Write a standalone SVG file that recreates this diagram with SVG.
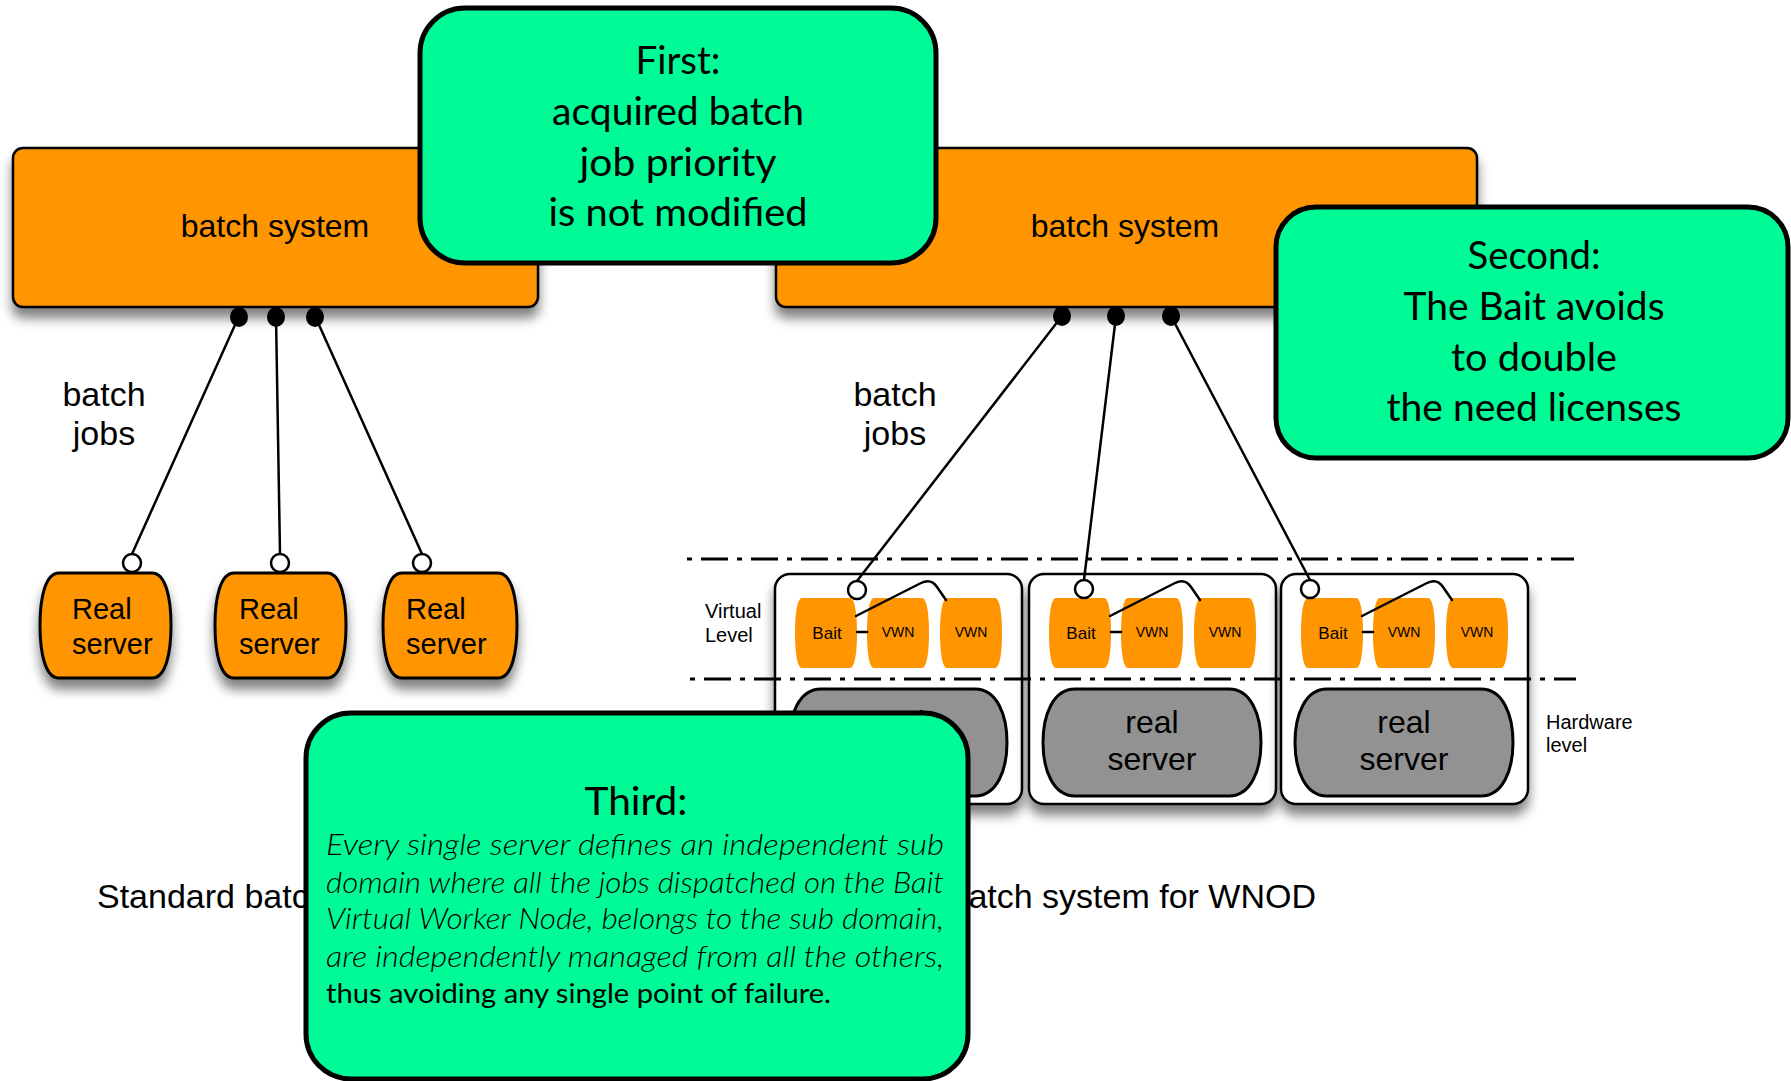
<svg xmlns="http://www.w3.org/2000/svg" width="1791" height="1081" viewBox="0 0 1791 1081">
  <defs>
    <filter id="shadow" x="-15%" y="-20%" width="130%" height="160%">
      <feGaussianBlur in="SourceAlpha" stdDeviation="6"/>
      <feOffset dy="10" result="blur"/>
      <feComponentTransfer><feFuncA type="linear" slope="0.5"/></feComponentTransfer>
      <feMerge><feMergeNode/><feMergeNode in="SourceGraphic"/></feMerge>
    </filter>
    <style>
      .batch { fill: #FF9500; stroke: #000; stroke-width: 2.5; }
      .real { fill: #FF9500; stroke: #000; stroke-width: 3; stroke-linejoin: round; }
      .pill { fill: #FF9500; stroke: none; }
      .host { fill: #fff; stroke: #000; stroke-width: 2.5; }
      .hw { fill: #929292; stroke: #000; stroke-width: 3; }
      .callout { fill: #00FA96; stroke: #000; stroke-width: 5; }
      .wire { stroke: #000; stroke-width: 2.5; fill: none; stroke-linecap: round; }
      .port { fill: #000; }
      .socket { fill: #fff; stroke: #000; stroke-width: 2.5; }
      .level { stroke: #000; stroke-width: 3; stroke-dasharray: 5 9 27 9; fill: none; }
      .sans { font-family: "Liberation Sans", Arial, sans-serif; fill: #000; }
      .gill { font-family: Lato, "Open Sans", sans-serif; fill: #000; }
      .mid { text-anchor: middle; }
    </style>
  </defs>

  <rect width="1791" height="1081" fill="#fff"/>

  <!-- batch system boxes -->
  <g id="batch-left">
    <rect class="batch" x="13" y="148" width="525" height="159" rx="10" filter="url(#shadow)"/>
    <text class="sans mid" x="275" y="237" font-size="32">batch system</text>
  </g>
  <g id="batch-right">
    <rect class="batch" x="776" y="148" width="701" height="159" rx="10" filter="url(#shadow)"/>
    <text class="sans mid" x="1125" y="237" font-size="32">batch system</text>
  </g>

  <!-- edge labels -->
  <g id="label-jobs-left">
    <text class="sans mid" x="104" y="406" font-size="34">batch</text>
    <text class="sans mid" x="104" y="445" font-size="34">jobs</text>
  </g>
  <g id="label-jobs-right">
    <text class="sans mid" x="895" y="406" font-size="34">batch</text>
    <text class="sans mid" x="895" y="445" font-size="34">jobs</text>
  </g>

  <!-- standard worker nodes -->
  <g id="real-server-1">
    <path class="real" filter="url(#shadow)" d="M59,573 H152 C166,573 171,599 171,625.5 C171,652 166,678 152,678 H59 C45,678 40,652 40,625.5 C40,599 45,573 59,573 Z"/>
    <text class="sans" x="72" y="619" font-size="29">Real</text>
    <text class="sans" x="72" y="654" font-size="29">server</text>
  </g>
  <g id="real-server-2">
    <path class="real" filter="url(#shadow)" d="M234,573 H327 C341,573 346,599 346,625.5 C346,652 341,678 327,678 H234 C220,678 215,652 215,625.5 C215,599 220,573 234,573 Z"/>
    <text class="sans" x="239" y="619" font-size="29">Real</text>
    <text class="sans" x="239" y="654" font-size="29">server</text>
  </g>
  <g id="real-server-3">
    <path class="real" filter="url(#shadow)" d="M402,573 H498 C512,573 517,599 517,625.5 C517,652 512,678 498,678 H402 C388,678 383,652 383,625.5 C383,599 388,573 402,573 Z"/>
    <text class="sans" x="406" y="619" font-size="29">Real</text>
    <text class="sans" x="406" y="654" font-size="29">server</text>
  </g>

  <!-- WNOD hosts: bait + virtual worker nodes on a real server -->
  <g id="host-1" transform="translate(775,0)">
    <rect class="host" x="0" y="574" width="247" height="230" rx="15" filter="url(#shadow)"/>
    <path class="pill" d="M27,598 H75 C80,598 82,615 82,633 C82,651 80,668 75,668 H27 C22,668 20,651 20,633 C20,615 22,598 27,598 Z"/>
    <path class="pill" d="M99,598 H147 C152,598 154,615 154,633 C154,651 152,668 147,668 H99 C94,668 92,651 92,633 C92,615 94,598 99,598 Z"/>
    <path class="pill" d="M172,598 H220 C225,598 227,615 227,633 C227,651 225,668 220,668 H172 C167,668 165,651 165,633 C165,615 167,598 172,598 Z"/>
    <text class="sans mid" x="52" y="639" font-size="17">Bait</text>
    <text class="sans mid" x="123" y="637" font-size="14">VWN</text>
    <text class="sans mid" x="196" y="637" font-size="14">VWN</text>
    <path class="wire" d="M82,632 H92"/>
    <path class="wire" d="M81,616 L146,583 C152,580 158,581 162,587 L171,600"/>
    <path class="hw" d="M46,689 H200 C222,689 232,715 232,742.5 C232,770 222,796 200,796 H46 C24,796 14,770 14,742.5 C14,715 24,689 46,689 Z"/>
    <text class="sans mid" x="123" y="733" font-size="32">real</text>
    <text class="sans mid" x="123" y="770" font-size="32">server</text>
  </g>
  <g id="host-2" transform="translate(1029,0)">
    <rect class="host" x="0" y="574" width="247" height="230" rx="15" filter="url(#shadow)"/>
    <path class="pill" d="M27,598 H75 C80,598 82,615 82,633 C82,651 80,668 75,668 H27 C22,668 20,651 20,633 C20,615 22,598 27,598 Z"/>
    <path class="pill" d="M99,598 H147 C152,598 154,615 154,633 C154,651 152,668 147,668 H99 C94,668 92,651 92,633 C92,615 94,598 99,598 Z"/>
    <path class="pill" d="M172,598 H220 C225,598 227,615 227,633 C227,651 225,668 220,668 H172 C167,668 165,651 165,633 C165,615 167,598 172,598 Z"/>
    <text class="sans mid" x="52" y="639" font-size="17">Bait</text>
    <text class="sans mid" x="123" y="637" font-size="14">VWN</text>
    <text class="sans mid" x="196" y="637" font-size="14">VWN</text>
    <path class="wire" d="M82,632 H92"/>
    <path class="wire" d="M81,616 L146,583 C152,580 158,581 162,587 L171,600"/>
    <path class="hw" d="M46,689 H200 C222,689 232,715 232,742.5 C232,770 222,796 200,796 H46 C24,796 14,770 14,742.5 C14,715 24,689 46,689 Z"/>
    <text class="sans mid" x="123" y="733" font-size="32">real</text>
    <text class="sans mid" x="123" y="770" font-size="32">server</text>
  </g>
  <g id="host-3" transform="translate(1281,0)">
    <rect class="host" x="0" y="574" width="247" height="230" rx="15" filter="url(#shadow)"/>
    <path class="pill" d="M27,598 H75 C80,598 82,615 82,633 C82,651 80,668 75,668 H27 C22,668 20,651 20,633 C20,615 22,598 27,598 Z"/>
    <path class="pill" d="M99,598 H147 C152,598 154,615 154,633 C154,651 152,668 147,668 H99 C94,668 92,651 92,633 C92,615 94,598 99,598 Z"/>
    <path class="pill" d="M172,598 H220 C225,598 227,615 227,633 C227,651 225,668 220,668 H172 C167,668 165,651 165,633 C165,615 167,598 172,598 Z"/>
    <text class="sans mid" x="52" y="639" font-size="17">Bait</text>
    <text class="sans mid" x="123" y="637" font-size="14">VWN</text>
    <text class="sans mid" x="196" y="637" font-size="14">VWN</text>
    <path class="wire" d="M82,632 H92"/>
    <path class="wire" d="M81,616 L146,583 C152,580 158,581 162,587 L171,600"/>
    <path class="hw" d="M46,689 H200 C222,689 232,715 232,742.5 C232,770 222,796 200,796 H46 C24,796 14,770 14,742.5 C14,715 24,689 46,689 Z"/>
    <text class="sans mid" x="123" y="733" font-size="32">real</text>
    <text class="sans mid" x="123" y="770" font-size="32">server</text>
  </g>

  <!-- level separators -->
  <g id="levels">
    <path class="level" d="M687,559 H1574"/>
    <path class="level" d="M690,679 H1576"/>
    <text class="sans" x="705" y="618" font-size="20">Virtual</text>
    <text class="sans" x="705" y="642" font-size="20">Level</text>
    <text class="sans" x="1546" y="729" font-size="20">Hardware</text>
    <text class="sans" x="1546" y="752" font-size="20">level</text>
  </g>

  <!-- job dispatch connectors -->
  <g id="connectors">
    <path class="wire" d="M239,316 L132,554"/>
    <path class="wire" d="M276,316 L280,554"/>
    <path class="wire" d="M315,316 L422,554"/>
    <ellipse class="port" cx="239" cy="317" rx="9" ry="10"/>
    <ellipse class="port" cx="276" cy="317" rx="9" ry="10"/>
    <ellipse class="port" cx="315" cy="317" rx="9" ry="10"/>
    <circle class="socket" cx="132" cy="563" r="9"/>
    <circle class="socket" cx="280" cy="563" r="9"/>
    <circle class="socket" cx="422" cy="563" r="9"/>

    <path class="wire" d="M1062,316 L857,581"/>
    <path class="wire" d="M1116,316 L1084,580"/>
    <path class="wire" d="M1171,316 L1310,580"/>
    <ellipse class="port" cx="1062" cy="316" rx="9" ry="10"/>
    <ellipse class="port" cx="1116" cy="316" rx="9" ry="10"/>
    <ellipse class="port" cx="1171" cy="316" rx="9" ry="10"/>
    <circle class="socket" cx="857" cy="590" r="9"/>
    <circle class="socket" cx="1084" cy="589" r="9"/>
    <circle class="socket" cx="1310" cy="589" r="9"/>
  </g>

  <!-- captions -->
  <g id="captions">
    <text class="sans" x="97" y="908" font-size="34">Standard batc</text>
    <text class="sans" x="1316" y="908" font-size="34" text-anchor="end">atch system for WNOD</text>
  </g>

  <!-- callouts -->
  <g id="callout-first">
    <rect class="callout" x="420" y="8" width="516" height="255" rx="45"/>
    <text class="gill mid" x="678" y="74" font-size="38" textLength="85" lengthAdjust="spacingAndGlyphs">First:</text>
    <text class="gill mid" x="678" y="125" font-size="38" textLength="252" lengthAdjust="spacingAndGlyphs">acquired batch</text>
    <text class="gill mid" x="678" y="176" font-size="38" textLength="197" lengthAdjust="spacingAndGlyphs">job priority</text>
    <text class="gill mid" x="678" y="226" font-size="38" textLength="259" lengthAdjust="spacingAndGlyphs">is not modified</text>
  </g>
  <g id="callout-second">
    <rect class="callout" x="1276" y="207" width="512" height="251" rx="40"/>
    <text class="gill mid" x="1534" y="269" font-size="38" textLength="133" lengthAdjust="spacingAndGlyphs">Second:</text>
    <text class="gill mid" x="1534" y="320" font-size="38" textLength="261" lengthAdjust="spacingAndGlyphs">The Bait avoids</text>
    <text class="gill mid" x="1534" y="371" font-size="38" textLength="166" lengthAdjust="spacingAndGlyphs">to double</text>
    <text class="gill mid" x="1534" y="421" font-size="38" textLength="295" lengthAdjust="spacingAndGlyphs">the need licenses</text>
  </g>
  <g id="callout-third">
    <rect class="callout" x="306" y="713" width="662" height="366" rx="45"/>
    <text class="gill mid" x="636" y="815" font-size="38" textLength="103" lengthAdjust="spacingAndGlyphs">Third:</text>
    <g font-style="italic" font-weight="300" font-size="29">
      <text class="gill" x="326" y="855" textLength="618" lengthAdjust="spacingAndGlyphs">Every single server defines an independent sub</text>
      <text class="gill" x="326" y="893" textLength="618" lengthAdjust="spacingAndGlyphs">domain where all the jobs dispatched on the Bait</text>
      <text class="gill" x="326" y="929" textLength="618" lengthAdjust="spacingAndGlyphs">Virtual Worker Node, belongs to the sub domain,</text>
      <text class="gill" x="326" y="967" textLength="618" lengthAdjust="spacingAndGlyphs">are independently managed from all the others,</text>
    </g>
    <text class="gill" x="326" y="1003" font-size="27" textLength="505" lengthAdjust="spacingAndGlyphs">thus avoiding any single point of failure.</text>
  </g>
</svg>
